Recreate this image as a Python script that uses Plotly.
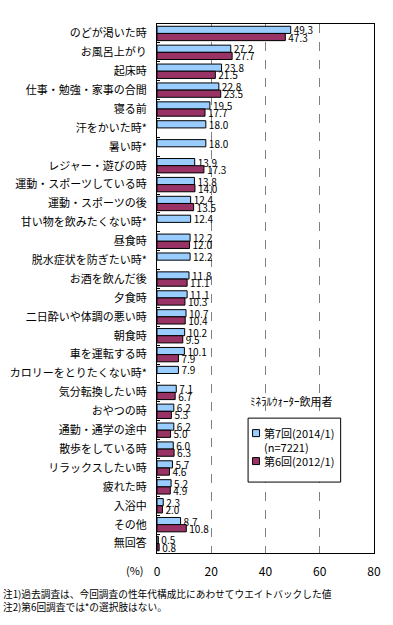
import plotly.graph_objects as go

categories = ["のどが渇いた時", "お風呂上がり", "起床時", "仕事・勉強・家事の合間", "寝る前",
              "汗をかいた時*", "暑い時*", "レジャー・遊びの時", "運動・スポーツしている時",
              "運動・スポーツの後", "甘い物を飲みたくない時*", "昼食時", "脱水症状を防ぎたい時*",
              "お酒を飲んだ後", "夕食時", "二日酔いや体調の悪い時", "朝食時", "車を運転する時",
              "カロリーをとりたくない時*", "気分転換したい時", "おやつの時", "通勤・通学の途中",
              "散歩をしている時", "リラックスしたい時", "疲れた時", "入浴中", "その他", "無回答"]
wave7 = [49.3, 27.2, 23.8, 22.8, 19.5, 18.0, 18.0, 13.9, 13.8, 12.4, 12.4, 12.2, 12.2,
         11.8, 11.1, 10.7, 10.2, 10.1, 7.9, 7.1, 6.2, 6.2, 6.0, 5.7, 5.2, 2.3, 8.7, 0.5]
wave6 = [47.3, 27.7, 21.5, 23.5, 17.7, None, None, 17.3, 14.0, 13.5, None, 12.0, None,
         11.1, 10.3, 10.4, 9.5, 7.9, None, 6.7, 5.3, 5.0, 6.3, 4.6, 4.9, 2.0, 10.8, 0.8]
name7 = "第7回(2014/1)"
name7_n = "(n=7221)"
name6 = "第6回(2012/1)"
color7 = "#99CCFF"
color6 = "#993366"
xticks = [0, 20, 40, 60, 80]

W, H = 393, 625
L, R, T, B = 156.5, 374.5, 23.5, 553  # plot area in page pixels
FONT = "Noto Sans CJK JP"

def px(x):
    return (x - L) / (R - L)

def py(y):
    return (B - y) / (B - T)

def fmt(v):
    return "" if v is None else f"{v:.1f}"

fig = go.Figure()
for vals, nm, col in [(wave7, name7, color7), (wave6, name6, color6)]:
    fig.add_trace(go.Bar(
        y=categories, x=vals, orientation="h", name=nm, showlegend=False,
        marker=dict(color=col, line=dict(color="black", width=1)),
        text=[fmt(v) for v in vals], textposition="outside", cliponaxis=False,
        constraintext="none",
        textfont=dict(size=10, color="black", family=FONT),
    ))

fig.update_layout(
    width=W, height=H,
    margin=dict(l=L, r=W - R, t=T, b=H - B, pad=0),
    paper_bgcolor="white", plot_bgcolor="white",
    font=dict(family=FONT, size=11, color="black"),
    barmode="group", bargap=0.24, bargroupgap=0,
    showlegend=False,
    xaxis=dict(
        range=[0, 80], tickvals=xticks, ticktext=[str(t) for t in xticks],
        showgrid=True, gridcolor="#808080", griddash="dash", gridwidth=1,
        showline=True, mirror=True, linecolor="black", linewidth=1,
        zeroline=False, ticks="", tickfont=dict(size=12), ticklabelstandoff=8,
        automargin=False,
    ),
    yaxis=dict(
        type="category", autorange="reversed",
        showline=True, mirror=True, linecolor="black", linewidth=1,
        ticks="inside", tickson="boundaries", ticklen=3, tickcolor="black",
        showgrid=False, tickfont=dict(size=11), ticklabelstandoff=7,
        automargin=False,
    ),
)

# legend (drawn as box + swatches + labels)
shapes = [
    dict(type="rect", xref="paper", yref="paper", x0=px(248), x1=px(341), y0=py(482), y1=py(418),
         line=dict(color="black", width=1), fillcolor="white", layer="above"),
    dict(type="rect", xref="paper", yref="paper", x0=px(252.5), x1=px(259.5), y0=py(436.5), y1=py(429.5),
         line=dict(color="black", width=1), fillcolor=color7, layer="above"),
    dict(type="rect", xref="paper", yref="paper", x0=px(252.5), x1=px(259.5), y0=py(464.5), y1=py(457.5),
         line=dict(color="black", width=1), fillcolor=color6, layer="above"),
]
fig.update_layout(shapes=shapes)

annotations = [
    dict(text=name7, x=px(262), y=py(433), xanchor="left", yanchor="middle", font=dict(size=11)),
    dict(text=name7_n, x=px(262), y=py(447), xanchor="left", yanchor="middle", font=dict(size=11)),
    dict(text=name6, x=px(262), y=py(461), xanchor="left", yanchor="middle", font=dict(size=11)),
    dict(text="(%)", x=px(134), y=py(570), xanchor="center", yanchor="middle", font=dict(size=11)),
    dict(text="ﾐﾈﾗﾙｳｫｰﾀｰ飲用者", x=px(292), y=py(401), xanchor="center", yanchor="middle", font=dict(size=11)),
    dict(text="注1)過去調査は、今回調査の性年代構成比にあわせてウエイトバックした値<br>"
              "注2)第6回調査では*の選択肢はない。",
         x=px(0), y=py(600.5), xanchor="left", yanchor="middle", align="left", font=dict(size=9.7)),
]
for a in annotations:
    a.update(xref="paper", yref="paper", showarrow=False)
fig.update_layout(annotations=annotations)

fig.write_html("out.html", config={"displayModeBar": False},
               post_script="document.body.style.margin='0';")
